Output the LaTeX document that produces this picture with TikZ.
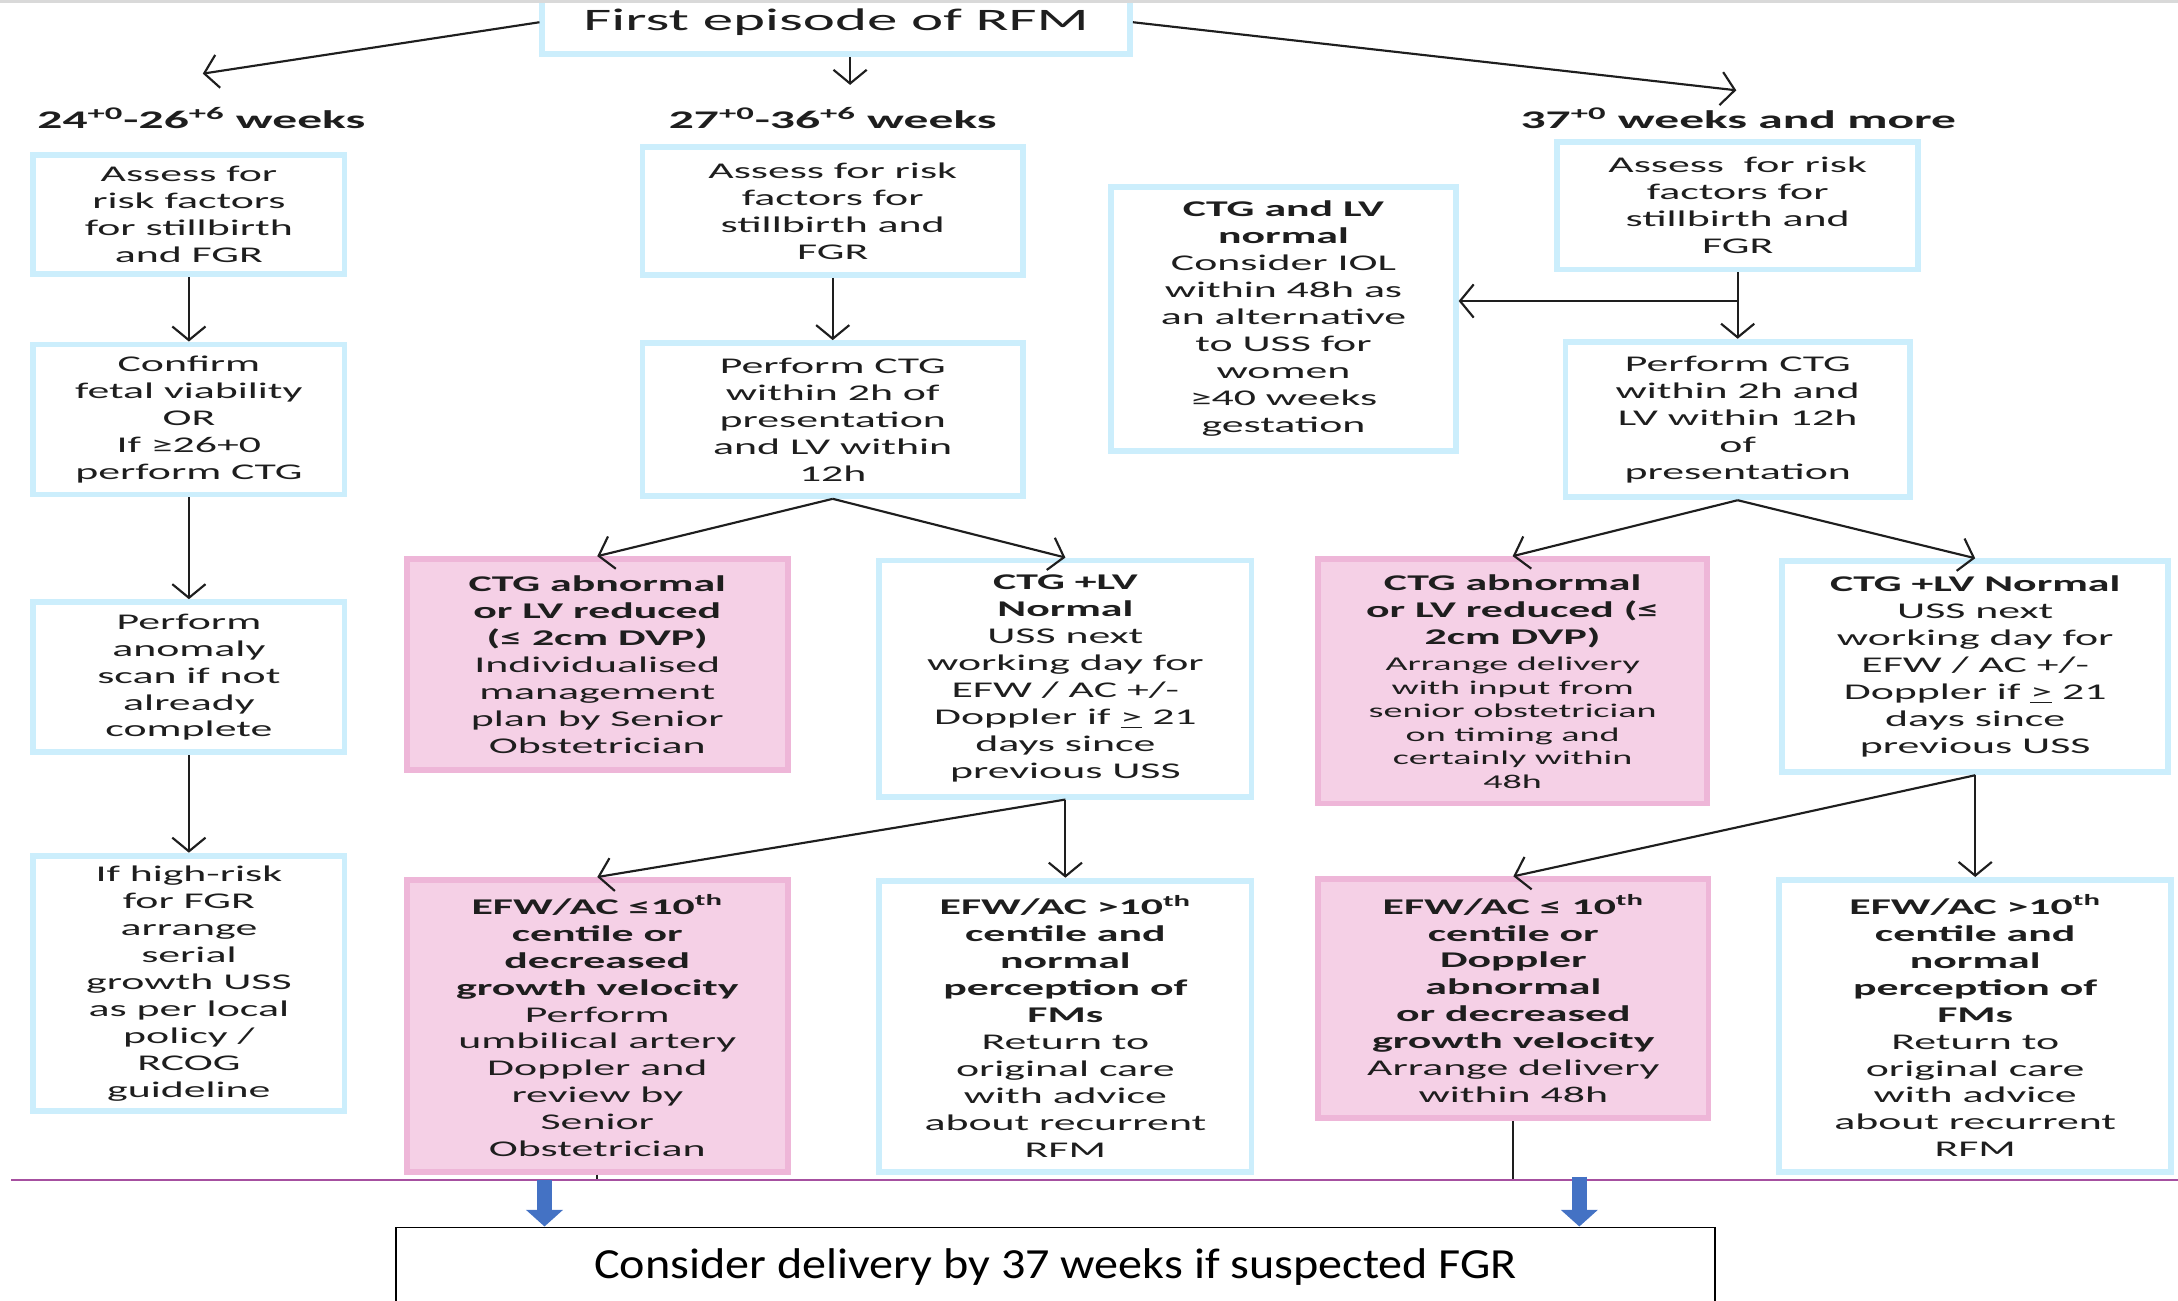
\documentclass[tikz,border=0pt]{standalone}
\usepackage{fontspec}
\setmainfont{Carlito}
\newfontfamily\widefont[FakeStretch=1.95]{Carlito}
\newfontfamily\notefont[FakeStretch=1.12]{Carlito}
\usetikzlibrary{calc}
\usetikzlibrary{arrows.meta}

\definecolor{boxblue}{RGB}{204,238,252}
\definecolor{boxpink}{RGB}{238,182,216}
\definecolor{pinkfill}{RGB}{245,208,230}
\definecolor{rulepurple}{RGB}{166,80,160}
\definecolor{arrowblue}{RGB}{68,114,196}
\definecolor{txt}{RGB}{30,30,30}

\newcommand{\sml}[1]{{\fontsize{10}{12}\selectfont #1}}

\begin{document}
\begin{tikzpicture}[x=0.025cm, y=-0.025cm,
    >={Straight Barb[length=7pt, width=17pt]},
    wh/.style 2 args={minimum width=#1*0.025cm, minimum height=#2*0.025cm},
    bluebox/.style={draw=boxblue, line width=3pt, fill=white, text=txt,
      align=center, inner sep=1pt,
      font=\widefont\fontsize{11.5}{13.8}\selectfont},
    pinkbox/.style={bluebox, draw=boxpink, fill=pinkfill},
    heading/.style={text=txt, font=\widefont\bfseries\fontsize{13}{15}\selectfont},
    link/.style={->, line width=1.1pt, draw=txt},
    bigarrow/.style={line width=0.27cm, draw=arrowblue,
      -{Triangle[length=0.3cm, width=0.65cm]}}]
  \useasboundingbox (0,0) rectangle (1568,936);

  \node[bluebox, wh={423}{46}, font=\widefont\fontsize{16}{19}\selectfont]
    (rfm) at (602,16) {First episode of RFM};
  \draw[black!15, line width=2pt] (0,1) -- (1568,1);

  \node[heading] (h1) at (145,85) {24\textsuperscript{+0}-26\textsuperscript{+6} weeks};
  \node[heading] (h2) at (599.5,85) {27\textsuperscript{+0}-36\textsuperscript{+6} weeks};
  \node[heading] (h3) at (1251.5,85) {37\textsuperscript{+0} weeks and more};
  \coordinate (t1) at (146,53);
  \coordinate (t3) at (1250,65);
  \draw[link] (rfm.west) -- (t1);
  \draw[link] ($(rfm.south)+(10,0)$) -- ++(0,20);
  \draw[link] (rfm.east) -- (t3);

  % 24-26 weeks
  \node[bluebox, wh={224}{86}] (a1) at (136,154.5)
    {Assess for\\risk factors\\for stillbirth\\and FGR};
  \node[bluebox, wh={224}{108}] (a2) at (136,302)
    {Confirm\\fetal viability\\OR\\If ≥26+0\\perform CTG};
  \node[bluebox, wh={224}{108}] (a3) at (136,487.5)
    {Perform\\anomaly\\scan if not\\already\\complete};
  \node[bluebox, wh={224}{184}] (a4) at (136,708)
    {If high-risk\\for FGR\\arrange\\serial\\growth USS\\as per local\\policy /\\RCOG\\guideline};
  \foreach \u/\v in {a1/a2, a2/a3, a3/a4}
    \draw[link] (\u) -- (\v);

  % 27-36 weeks
  \node[bluebox, wh={274}{92}] (b1) at (599.5,152)
    {Assess for risk\\factors for\\stillbirth and\\FGR};
  \node[bluebox, wh={274}{110}] (b2) at (599.5,302)
    {Perform CTG\\within 2h of\\presentation\\and LV within\\12h};
  \node[pinkbox, wh={274}{152}] (b3) at (430,478.5)
    {\textbf{CTG abnormal}\\\textbf{or LV reduced}\\\textbf{(≤ 2cm DVP)}\\Individualised\\management\\plan by Senior\\Obstetrician};
  \node[bluebox, wh={268}{170}] (b4) at (767,488.5)
    {\textbf{CTG +LV}\\\textbf{Normal}\\USS next\\working day for\\EFW / AC +/-\\Doppler if \underline{>} 21\\days since\\previous USS};
  \node[pinkbox, wh={274}{210}] (b5) at (430,738.5)
    {\textbf{EFW/AC ≤10\textsuperscript{th}}\\\textbf{centile or}\\\textbf{decreased}\\\textbf{growth velocity}\\Perform\\umbilical artery\\Doppler and\\review by\\Senior\\Obstetrician};
  \node[bluebox, wh={268}{210}] (b6) at (767,739)
    {\textbf{EFW/AC >10\textsuperscript{th}}\\\textbf{centile and}\\\textbf{normal}\\\textbf{perception of}\\\textbf{FMs}\\Return to\\original care\\with advice\\about recurrent\\RFM};
  \draw[link] (b1) -- (b2);
  \draw[link] (b2.south) -- (b3.north);
  \draw[link] (b2.south) -- (b4.north);
  \draw[link] (b4.south) -- (b5.north);
  \draw[link] (b4.south) -- (b6.north);

  % 37 weeks and more
  \node[bluebox, wh={248}{190}] (c0) at (924,229.5)
    {\textbf{CTG and LV}\\\textbf{normal}\\Consider IOL\\within 48h as\\an alternative\\to USS for\\women\\≥40 weeks\\gestation};
  \node[bluebox, wh={260}{92}] (c1) at (1251,148)
    {Assess\ \ for risk\\factors for\\stillbirth and\\FGR};
  \node[bluebox, wh={248}{112}] (c2) at (1251,302)
    {Perform CTG\\within 2h and\\LV within 12h\\of\\presentation};
  \node[pinkbox, wh={280}{176}] (c3) at (1089,490.5)
    {\textbf{CTG abnormal}\\\textbf{or LV reduced (≤}\\\textbf{2cm DVP)}\\\sml{Arrange delivery}\\[-1.8pt]\sml{with input from}\\[-1.8pt]\sml{senior obstetrician}\\[-1.8pt]\sml{on timing and}\\[-1.8pt]\sml{certainly within}\\[-1.8pt]\sml{48h}};
  \node[bluebox, wh={278}{152}] (c4) at (1422,480)
    {\textbf{CTG +LV Normal}\\USS next\\working day for\\EFW / AC +/-\\Doppler if \underline{>} 21\\days since\\previous USS};
  \node[pinkbox, wh={281}{172}] (c5) at (1089.5,719)
    {\textbf{EFW/AC ≤ 10\textsuperscript{th}}\\\textbf{centile or}\\\textbf{Doppler}\\\textbf{abnormal}\\\textbf{or decreased}\\\textbf{growth velocity}\\Arrange delivery\\within 48h};
  \node[bluebox, wh={282}{210}] (c6) at (1422,738.5)
    {\textbf{EFW/AC >10\textsuperscript{th}}\\\textbf{centile and}\\\textbf{normal}\\\textbf{perception of}\\\textbf{FMs}\\Return to\\original care\\with advice\\about recurrent\\RFM};
  \coordinate (cj) at (1251,216.7);
  \draw[link] (c1) -- (c2);
  \draw[link] (cj) -- (cj -| c0.east);
  \draw[link] (c2.south) -- (c3.north);
  \draw[link] (c2.south) -- (c4.north);
  \draw[link] (c4.south) -- (c5.north);
  \draw[link] (c4.south) -- (c6.north);

  % bottom
  \coordinate (rule) at (0,849.5);
  \draw[line width=1.1pt, draw=txt] (b5.south) -- (b5.south |- rule);
  \draw[line width=1.1pt, draw=txt] (c5.south) -- (c5.south |- rule);
  \draw[rulepurple, line width=1pt] (8,849.5) -- (1568,849.5);
  \node[draw, line width=1pt, anchor=north, wh={950}{0}, inner ysep=0.1cm,
    text height=0.825cm, text depth=0.8cm, text=black,
    font=\notefont\fontsize{22}{26}\selectfont]
    (fgr) at (760,883) {Consider delivery by 37 weeks if suspected FGR};
  \coordinate (pl) at (392,849.5);
  \coordinate (pr) at (1137,847);
  \draw[bigarrow] (pl) -- (pl |- fgr.north);
  \draw[bigarrow] (pr) -- (pr |- fgr.north);
\end{tikzpicture}
\end{document}
